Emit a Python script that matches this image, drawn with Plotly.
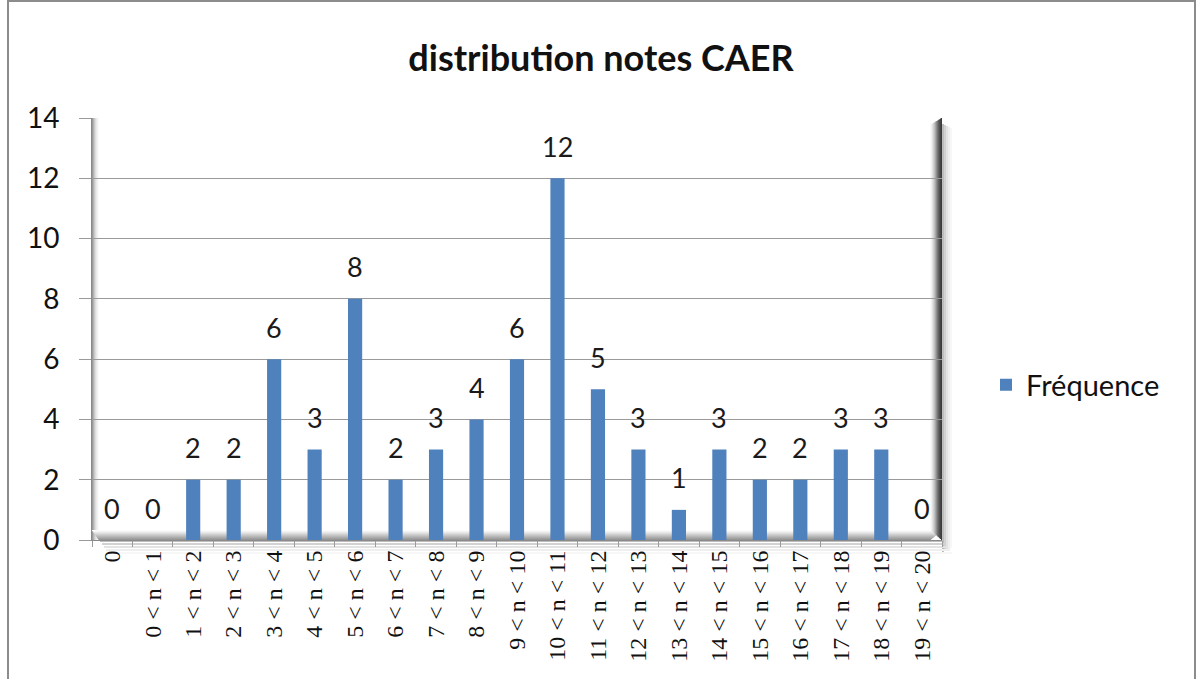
import plotly.graph_objects as go

categories = ["0", "0 < n < 1", "1 < n < 2", "2 < n < 3", "3 < n < 4", "4 < n < 5",
              "5 < n < 6", "6 < n < 7", "7 < n < 8", "8 < n < 9", "9 < n < 10",
              "10 < n < 11", "11 < n < 12", "12 < n < 13", "13 < n < 14", "14 < n < 15",
              "15 < n < 16", "16 < n < 17", "17 < n < 18", "18 < n < 19", "19 < n < 20"]
frequence = [0, 0, 2, 2, 6, 3, 8, 2, 3, 4, 6, 12, 5, 3, 1, 3, 2, 2, 3, 3, 0]
series_name = "Fréquence"
y_ticks = [0, 2, 4, 6, 8, 10, 12, 14]

BAR = "#4F81BD"
FONT = "Lato, 'Open Sans', sans-serif"

fig = go.Figure()
fig.add_trace(go.Bar(
    x=categories, y=frequence, name=series_name,
    marker=dict(color=BAR, line=dict(width=0)),
    width=0.35,
))

# data labels
for c, v in zip(categories, frequence):
    fig.add_annotation(x=c, y=v, text=str(v), showarrow=False, yshift=32,
                       yanchor="middle", font=dict(family=FONT, size=27, color="#1a1a1a"))

# 3D wall bevel (styling shapes in axis-domain coordinates)
W, H = 850.0, 422.0
def px_x(p):
    return (p - 92) / W
def px_y(p):
    return (540 - p) / H

shapes = []
left_cols = ["#9a9a9a", "#b4b4b4", "#cacaca", "#dcdcdc", "#e9e9e9", "#f3f3f3", "#fafafa"]
for i, col in enumerate(left_cols):
    shapes.append(dict(type="rect", xref="x domain", yref="y domain",
                       x0=px_x(92 + i), x1=px_x(93 + i), y0=px_y(540), y1=px_y(118),
                       fillcolor=col, line=dict(width=0), layer="below"))
bot_cols = ["#fbfbfb", "#f3f3f3", "#e8e8e8", "#dddddd", "#d0d0d0", "#c4c4c4", "#b8b8b8", "#acacac", "#a0a0a0", "#969696"]
for i, col in enumerate(bot_cols):
    shapes.append(dict(type="rect", xref="x domain", yref="y domain",
                       x0=px_x(92 + i * 0.7), x1=px_x(942 - i * 1.2),
                       y0=px_y(531 + i), y1=px_y(530 + i),
                       fillcolor=col, line=dict(width=0), layer="below"))
right_cols = ["#fafafa", "#f0f0f0", "#e2e2e2", "#d2d2d2", "#bfbfbf", "#a8a8a8", "#8f8f8f",
              "#777777", "#626262", "#525252", "#454545", "#3c3c3c"]
for i, col in enumerate(right_cols):
    shapes.append(dict(type="rect", xref="x domain", yref="y domain",
                       x0=px_x(930 + i), x1=px_x(931 + i), y0=px_y(540 - (11 - i) * 0.9), y1=px_y(118 + (11 - i) * 0.6),
                       fillcolor=col, line=dict(width=0), layer="below"))
shadow_cols = ["#bdbdbd", "#d2d2d2", "#e3e3e3", "#efefef", "#f7f7f7"]
for i, col in enumerate(shadow_cols):
    shapes.append(dict(type="rect", xref="x domain", yref="y domain",
                       x0=px_x(942 + i * 2), x1=px_x(944 + i * 2), y0=px_y(552 - i), y1=px_y(124 + i),
                       fillcolor=col, line=dict(width=0), layer="below"))
    shapes.append(dict(type="rect", xref="x domain", yref="y domain",
                       x0=px_x(100 + i * 2), x1=px_x(944 + i * 2), y0=px_y(542 + i * 3), y1=px_y(540 + i * 3),
                       fillcolor=col, line=dict(width=0), layer="below"))
# outer chart border
shapes.append(dict(type="rect", xref="paper", yref="paper",
                   x0=px_x(8), x1=px_x(1195), y0=px_y(760), y1=px_y(1),
                   line=dict(color="#8c8c8c", width=2), fillcolor="rgba(0,0,0,0)", layer="below"))

fig.update_layout(
    width=1202, height=679,
    margin=dict(l=92, r=260, t=118, b=139, autoexpand=False),
    paper_bgcolor="white", plot_bgcolor="white",
    title=dict(text="<b>distribution notes CAER</b>", x=0.5, xref="container", xanchor="center",
               y=1 - 58 / 679, yanchor="middle",
               font=dict(family=FONT, size=36, color="#111111")),
    showlegend=True,
    legend=dict(x=px_x(986), xanchor="left", y=px_y(385), yanchor="middle",
                font=dict(family=FONT, size=29, color="#111111"),
                bgcolor="rgba(0,0,0,0)", itemsizing="constant", itemwidth=30),
    bargap=0.65,
    shapes=shapes,
)
fig.update_xaxes(
    type="category", tickangle=-90, showgrid=False,
    tickfont=dict(family="'Liberation Serif', serif", size=24, color="#111111"),
    showline=True, linecolor="#8a8a8a", linewidth=1,
    ticks="outside", ticklen=6, tickcolor="#9a9a9a", tickson="boundaries",
    range=[-0.5, len(categories) - 0.5],
)
fig.update_yaxes(
    range=[0, 14], tickvals=y_ticks, showgrid=True, gridcolor="#9a9a9a", gridwidth=1,
    tickfont=dict(family=FONT, size=28, color="#111111"),
    showline=True, linecolor="#8a8a8a", linewidth=1,
    ticks="outside", ticklen=12, tickcolor="#9a9a9a", zeroline=False,
    ticklabelstandoff=14,
)

fig.write_html("out.html", config={"displayModeBar": False},
               post_script="document.body.style.margin='0';")
